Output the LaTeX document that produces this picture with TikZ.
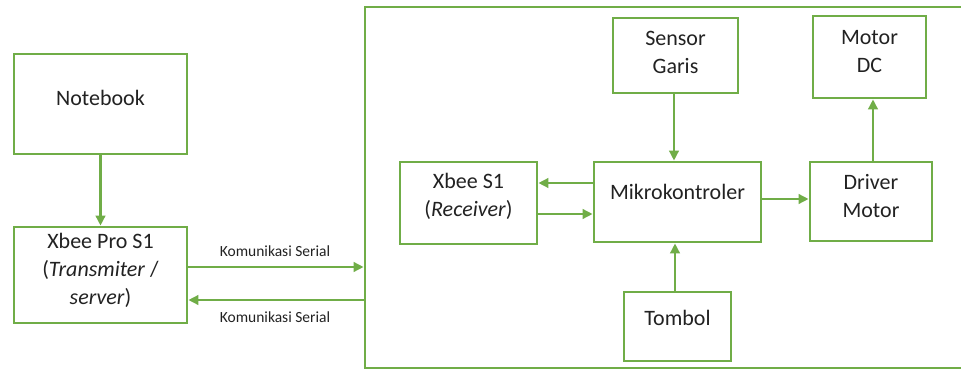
\documentclass[tikz,border=0pt]{standalone}
\usepackage{fontspec}
\setmainfont{Carlito}
\usetikzlibrary{arrows.meta,calc}
\definecolor{grn}{HTML}{70AD47}
\definecolor{txtc}{HTML}{222222}
\begin{document}
\begin{tikzpicture}[x=1pt,y=-1pt,
  box/.style={draw=grn, line width=2.8pt, inner sep=0pt},
  txt/.style={font=\fontsize{22}{28}\selectfont, align=center, text=txtc, inner sep=0pt},
  lbl/.style={font=\fontsize{15.5}{18}\selectfont, text=txtc, inner sep=0pt},
  arr/.style={draw=grn, line width=2.4pt, -{Triangle[length=10pt,width=9.5pt]}}]
\useasboundingbox (0,0) rectangle (961,369);
\clip (0,0) rectangle (961,369);
\fill[white] (0,0) rectangle (961,369);
% boxes
\node[box, minimum width=173pt, minimum height=100pt] (nb) at (100.5,104) {};
\node[box, minimum width=173pt, minimum height=96pt] (xp) at (100.5,275) {};
\node[box, minimum width=600pt, minimum height=361pt] (sys) at (665,187.5) {};
\node[box, minimum width=125pt, minimum height=75pt] (sg) at (675.5,55.5) {};
\node[box, minimum width=113pt, minimum height=82pt] (mdc) at (869.5,57) {};
\node[box, minimum width=137pt, minimum height=82pt] (xs) at (468.5,203) {};
\node[box, minimum width=167pt, minimum height=80pt] (mk) at (677.5,202) {};
\node[box, minimum width=122pt, minimum height=79pt] (dm) at (871,201.5) {};
\node[box, minimum width=107pt, minimum height=69pt] (tb) at (677.5,326.5) {};
% texts
\node[txt] (nbt) at (100.5,98) {Notebook};
\node[txt] (xpt) at (100.5,270) {Xbee Pro S1\\(\textit{Transmiter} /\\\textit{server})};
\node[txt] (sgt) at (675.5,52) {Sensor\\Garis};
\node[txt] (mdct) at (869.5,52) {Motor\\DC};
\node[txt] (xst) at (468.5,196) {Xbee S1\\(\textit{Receiver})};
\node[txt] (mkt) at (677.5,192) {Mikrokontroler};
\node[txt] (dmt) at (871,196) {Driver\\Motor};
\node[txt] (tbt) at (677.5,318) {Tombol};
\node[lbl] (l1) at (275,251) {Komunikasi Serial};
\node[lbl] (l2) at (275,317) {Komunikasi Serial};
% connectors
\draw[arr] (nb.south) -- (xp.north);
\draw[arr] (xp.east |- 0,267) -- (sys.west |- 0,267);
\draw[arr] (sys.west |- 0,300) -- (xp.east |- 0,300);
\draw[arr] (sg.south -| 674,0) -- (mk.north -| 674,0);
\draw[arr] (tb.north -| 675,0) -- (mk.south -| 675,0);
\draw[arr] (mk.west |- 0,183) -- (xs.east |- 0,183);
\draw[arr] (xs.east |- 0,214) -- (mk.west |- 0,214);
\draw[arr] (mk.east |- 0,199) -- (dm.west |- 0,199);
\draw[arr] (dm.north -| 873,0) -- (mdc.south -| 873,0);
\end{tikzpicture}
\end{document}
